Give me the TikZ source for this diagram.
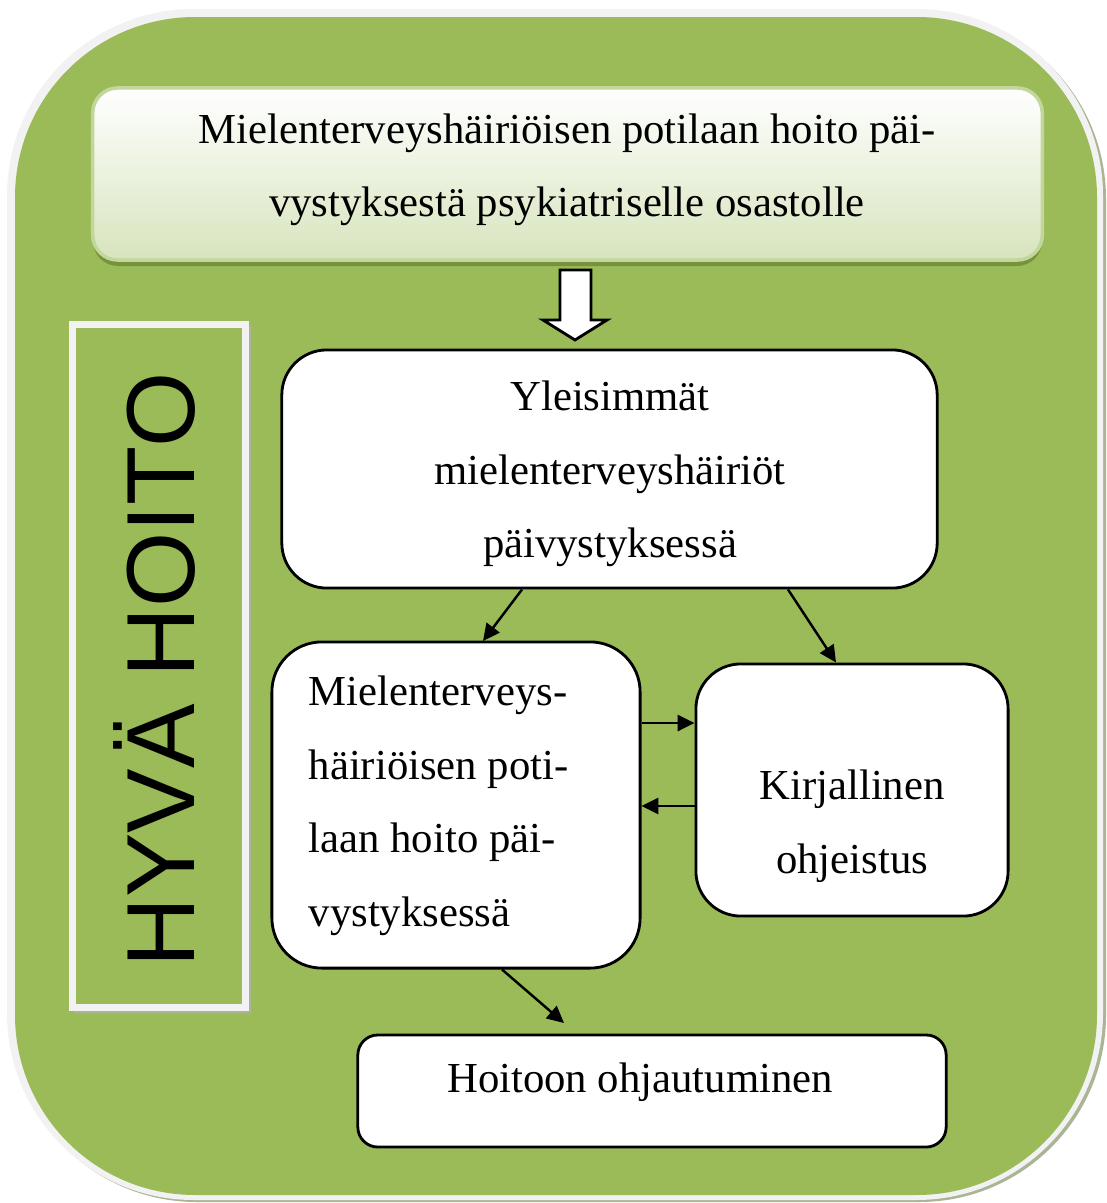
\documentclass[tikz,border=0pt]{standalone}
\usepackage{fontspec}
\setmainfont{Liberation Serif}
\newfontfamily\hyvafont{Liberation Sans}
\usetikzlibrary{arrows.meta}
\definecolor{leafgreen}{HTML}{9BBB59}
\definecolor{palegray}{HTML}{F2F2F2}
\definecolor{darkleaf}{HTML}{76923C}
\definecolor{paleleaf}{HTML}{D7E4BD}
\definecolor{edgeleaf}{HTML}{C3D69B}
\definecolor{shadeleaf}{HTML}{A9B594}
\tikzset{
  stepbox/.style={draw,fill=white,line width=0.8pt,inner sep=0pt},
  boxtext/.style={align=#1,font=\fontsize{12.15}{20.9}\selectfont,inner sep=0pt},
  flow/.style={-{Triangle[length=4.8pt,width=4.6pt]},line width=0.7pt}
}
\begin{document}
\begin{tikzpicture}[x=0.01cm,y=-0.01cm]
\useasboundingbox (0,0) rectangle (1107,1203);
% background
\fill[shadeleaf,rounded corners=5.6cm/3] (10,12) rectangle (1106,1202);
\fill[palegray,rounded corners=5.6cm/3] (7,9) rectangle (1103,1200);
\fill[leafgreen,rounded corners=1.8cm] (15,17) rectangle (1097,1195);
% title box
\fill[darkleaf,rounded corners=0.25cm] (93,92) rectangle (1042,266);
\node[draw=edgeleaf,line width=1pt,rounded corners=0.25cm,top color=white,bottom color=paleleaf,
  minimum width=9.49cm,minimum height=1.72cm,inner sep=0pt] (title) at (567.5,174) {};
\node[boxtext=center] (titletxt) at (567,170) {Mielenterveyshäiriöisen potilaan hoito päi-\\vystyksestä psykiatriselle osastolle};
\draw[fill=white,line width=0.8pt] (560,270) -- (591,270) -- (591,320) -- (607,320) -- (575,340)
  -- (543,320) -- (560,320) -- cycle;
% side label
\fill[shadeleaf] (74,326) rectangle (251,1013);
\node[draw=palegray,line width=2pt,fill=leafgreen,minimum width=1.72cm,minimum height=6.82cm] (hyva) at (159,666) {};
\node[rotate=90,font=\hyvafont\fontsize{27.5}{30}\selectfont,inner sep=0pt] (hyvatxt) at (155,670) {HYVÄ HOITO};
% boxes
\node[stepbox,rounded corners=0.45cm,minimum width=6.55cm,minimum height=2.38cm] (yleis) at (609.5,469) {};
\node[boxtext=center] (yleistxt) at (610,474) {Yleisimmät\\mielenterveyshäiriöt\\päivystyksessä};
\node[stepbox,rounded corners=0.5cm,minimum width=3.68cm,minimum height=3.26cm] (hoito) at (456,805) {};
\node[boxtext=left,anchor=west] (hoitotxt) at (308,806) {Mielenterveys-\\häiriöisen poti-\\laan hoito päi-\\vystyksessä};
\node[stepbox,rounded corners=0.45cm,minimum width=3.12cm,minimum height=2.52cm] (kirj) at (852,790) {};
\node[boxtext=center] (kirjtxt) at (852,826) {Kirjallinen\\ohjeistus};
\node[stepbox,rounded corners=0.2cm,minimum width=5.88cm,minimum height=1.12cm] (ohjaus) at (652,1091) {};
\node[boxtext=center] (ohjaustxt) at (640,1082) {Hoitoon ohjautuminen};
% connectors
\draw[flow] (yleis.south -| 522,0) -- (483,641);
\draw[flow] (yleis.south -| 788,0) -- (kirj.north -| 836,0);
\draw[flow] (hoito.east |- 0,723) -- (kirj.west |- 0,723);
\draw[flow] (kirj.west |- 0,806) -- (hoito.east |- 0,806);
\draw[flow] (hoito.south -| 502,0) -- (564,1023);
\end{tikzpicture}
\end{document}
